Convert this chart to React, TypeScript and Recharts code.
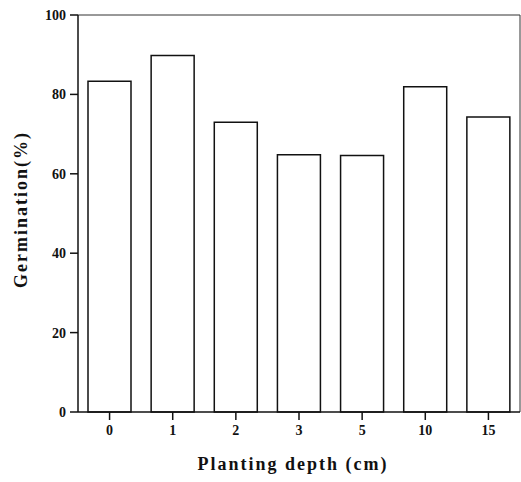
import { BarChart, Bar, XAxis, YAxis, CartesianGrid } from 'recharts';

const depths = ['0', '1', '2', '3', '5', '10', '15'];
const germination = [83.3, 89.8, 73.0, 64.8, 64.6, 81.9, 74.3];
const yTicks = [0, 20, 40, 60, 80, 100];

const rows = depths.map((d, i) => ({ depth: d, rate: germination[i] }));

const font = '"Liberation Serif", "Times New Roman", serif';
const css = `.germ-chart, .germ-chart svg, .germ-chart text, .germ-chart tspan { font-family: ${font} !important; }`;

const XTick = ({ x, y, payload }: any) => (
  <text x={x} y={y} dy={10} textAnchor="middle" fill="#111" fontFamily={font} fontSize={14} fontWeight="bold">
    {payload.value}
  </text>
);

const YTick = ({ x, y, payload }: any) => (
  <text x={x} y={y} dy={5} textAnchor="end" fill="#111" fontFamily={font} fontSize={14} fontWeight="bold">
    {payload.value}
  </text>
);

const XLabel = ({ viewBox }: any) => (
  <text
    x={viewBox.x + viewBox.width / 2 - 6}
    y={viewBox.y + viewBox.height - 12}
    textAnchor="middle"
    fill="#111"
    fontFamily={font}
    fontSize={18}
    fontWeight="bold"
    letterSpacing={2}
  >
    Planting depth (cm)
  </text>
);

const YLabel = ({ viewBox }: any) => {
  const cx = 27;
  const cy = viewBox.y + viewBox.height / 2 - 4;
  return (
    <text
      x={cx}
      y={cy}
      transform={`rotate(-90 ${cx} ${cy})`}
      textAnchor="middle"
      fill="#111"
      fontFamily={font}
      fontSize={18}
      fontWeight="bold"
      letterSpacing={2}
    >
      Germination(%)
    </text>
  );
};

export default function App() {
  return (
    <div className="germ-chart" style={{ position: 'absolute', left: 0, top: 0, background: '#fff' }}>
      <style>{css}</style>
      <BarChart width={521} height={482} data={rows} margin={{ top: 15, right: 1, bottom: 0, left: 0 }} barSize={43}>
        <CartesianGrid
          stroke="#333"
          strokeWidth={1}
          horizontalCoordinatesGenerator={({ offset }: any) => [offset.top]}
          verticalCoordinatesGenerator={({ offset }: any) => [offset.left + offset.width]}
        />
        <XAxis
          dataKey="depth"
          height={70}
          stroke="#111"
          strokeWidth={1.5}
          tickSize={8}
          tick={<XTick />}
          tickMargin={5}
          label={<XLabel />}
        />
        <YAxis
          domain={[0, 100]}
          ticks={yTicks}
          width={78}
          stroke="#111"
          strokeWidth={1.5}
          tickSize={8}
          tick={<YTick />}
          tickMargin={4}
          label={<YLabel />}
        />
        <Bar dataKey="rate" fill="#fff" stroke="#111" strokeWidth={1.5} isAnimationActive={false} />
      </BarChart>
    </div>
  );
}
